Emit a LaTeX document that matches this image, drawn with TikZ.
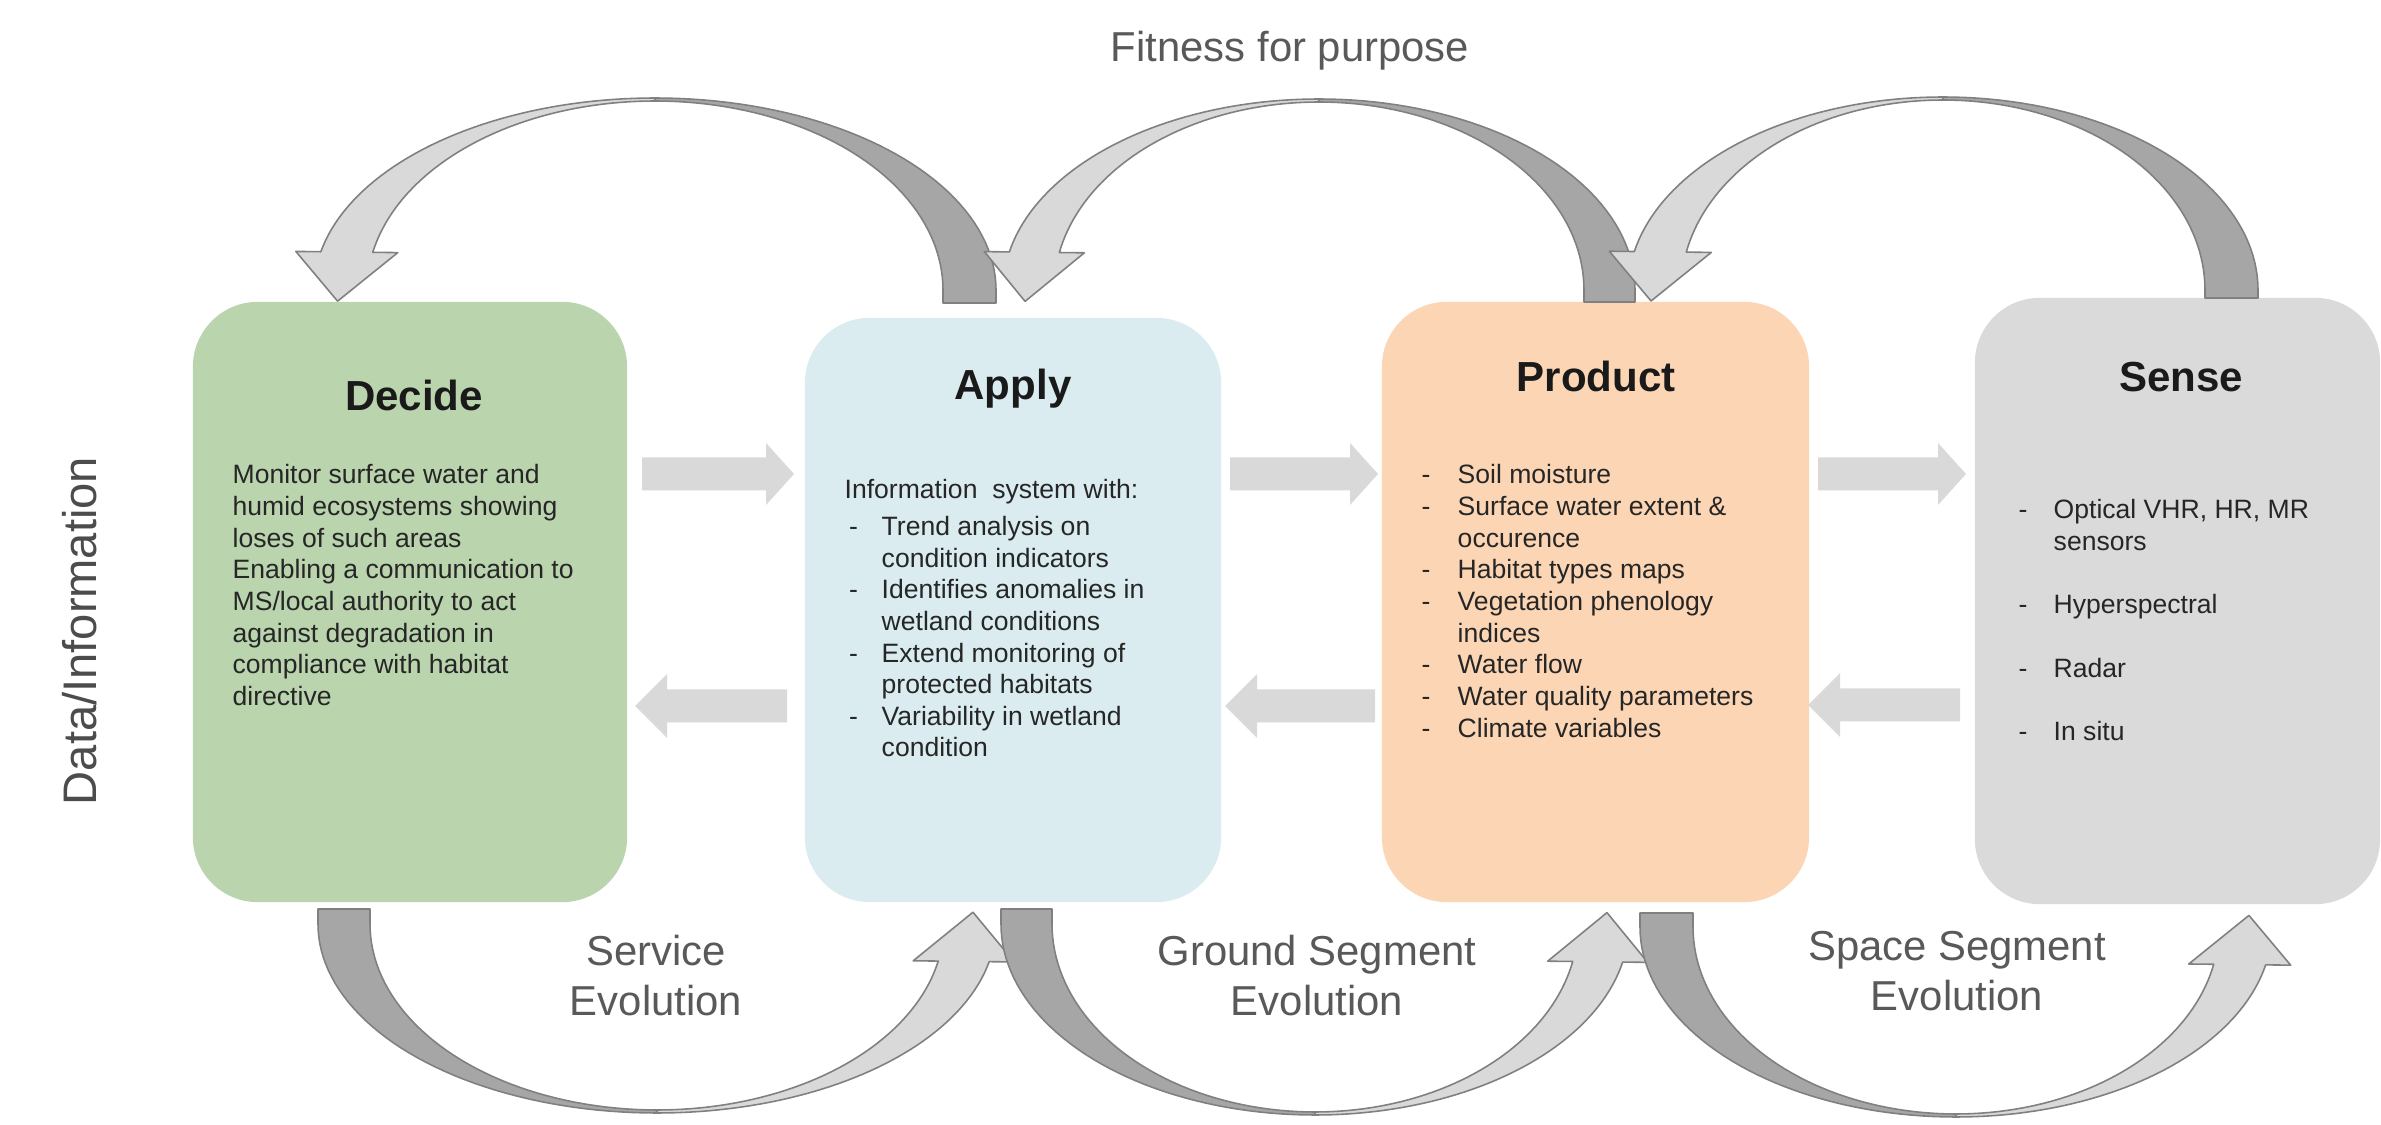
\documentclass[tikz,border=0pt]{standalone}
\usepackage{fontspec}
\setmainfont{Liberation Sans}
\usetikzlibrary{calc}

\definecolor{decidegreen}{HTML}{BAD4AE}
\definecolor{applyblue}{HTML}{DAECF0}
\definecolor{productpeach}{HTML}{FCD6B4}
\definecolor{sensegray}{HTML}{DADADA}
\definecolor{bandlight}{HTML}{D9D9D9}
\definecolor{banddark}{HTML}{A6A6A6}
\definecolor{bandedge}{HTML}{808080}
\definecolor{blockgray}{HTML}{D9D9D9}
\definecolor{labelgray}{HTML}{595959}
\definecolor{bodytext}{HTML}{262626}
\definecolor{titletext}{HTML}{1A1A1A}

% bullet column and continuation indent
\newcommand{\bul}[1]{\makebox[#1][l]{-}}
\newcommand{\cont}[1]{\hspace*{#1}}

% twisted ribbon arrow: #1 cx, #2 cy, #3 outer a, #4 outer b, #5 inner a, #6 inner b,
% #7 side (1 = arching over the top, -1 = hanging below), #8 y where the dark end stops
\newcommand{\ribbon}[8]{%
  \fill[banddark, draw=bandedge, line width=0.45pt, line join=round]
    ({#1+(#7)*#5},#8) -- ({#1+(#7)*#3},#8)
    -- plot[domain=0:90, samples=45] ({#1+(#7)*#3*cos(\x)},{#2-(#7)*#4*sin(\x)})
    -- plot[domain=90:0, samples=45] ({#1+(#7)*#5*cos(\x)},{#2-(#7)*#6*sin(\x)})
    -- cycle;
  \coordinate (rO) at ({#1+(#7)*#3*cos(168.5)},{#2-(#7)*#4*sin(168.5)});
  \coordinate (rI) at ({#1+(#7)*#5*cos(168.5)},{#2-(#7)*#6*sin(168.5)});
  \coordinate (rM) at ($(rO)!0.5!(rI)$);
  \fill[bandlight, draw=bandedge, line width=0.45pt, line join=round]
    plot[domain=90:168.5, samples=45] ({#1+(#7)*#3*cos(\x)},{#2-(#7)*#4*sin(\x)})
    -- ($(rO)!-0.25cm!(rI)$) -- ($(rM)!0.5cm!80:(rO)$) -- ($(rI)!-0.25cm!(rO)$)
    -- plot[domain=168.5:90, samples=45] ({#1+(#7)*#5*cos(\x)},{#2-(#7)*#6*sin(\x)})
    -- cycle;
}

% flat block arrow: #1 tail x, #2 head base x, #3 tip x, #4 centre y, #5 head half height
\newcommand{\blockarrow}[5]{%
  \fill[blockgray]
    (#1,{#4-16.5}) -- (#2,{#4-16.5}) -- (#2,{#4-#5}) -- (#3,#4)
    -- (#2,{#4+#5}) -- (#2,{#4+16.5}) -- (#1,{#4+16.5}) -- cycle;
}

\begin{document}
\begin{tikzpicture}[x=0.01cm, y=-0.01cm,
  stagebox/.style={rectangle, rounded corners=0.65cm, draw=none, inner sep=0pt},
  stagetitle/.style={font=\bfseries\fontsize{11.95pt}{14pt}\selectfont, text=titletext, inner sep=0pt, anchor=base},
  stagebody/.style={font=\fontsize{7.55pt}{9pt}\selectfont, text=bodytext, align=left, inner sep=0pt, anchor=north west},
  looplabel/.style={font=\fontsize{11.9pt}{14.2pt}\selectfont, text=labelgray, align=center, inner sep=0pt}]

\fill[white] (0,0) rectangle (2381,1125);
\useasboundingbox (0,0) rectangle (2381,1125);

% stage boxes
\node[stagebox, fill=decidegreen, minimum width=4.34cm, minimum height=6.0cm] (decide) at (410,602) {};
\node[stagebox, fill=applyblue, minimum width=4.16cm, minimum height=5.84cm] (apply) at (1013,610) {};
\node[stagebox, fill=productpeach, minimum width=4.27cm, minimum height=6.0cm] (product) at (1595.5,602) {};
\node[stagebox, fill=sensegray, minimum width=4.05cm, minimum height=6.06cm] (sense) at (2177.5,601) {};

% titles
\node[stagetitle] (decidetitle) at (414,411) {Decide};
\node[stagetitle] (applytitle) at (1013,400) {Apply};
\node[stagetitle] (producttitle) at (1596,392) {Product};
\node[stagetitle] (sensetitle) at (2181,392) {Sense};

% box contents
\node[stagebody] (decidebody) at (232,461) {\strut Monitor surface water and\\
humid ecosystems showing\\
loses of such areas\\
Enabling a communication to\\
MS/local authority to act\\
against degradation in\\
compliance with habitat\\
directive};

\node[stagebody] (applybody) at (844,476) {\strut Information\ \ system with:\\[1.4pt]
\hspace*{0.045cm}\bul{0.325cm}Trend analysis on\\
\cont{0.37cm}condition indicators\\
\hspace*{0.045cm}\bul{0.325cm}Identifies anomalies in\\
\cont{0.37cm}wetland conditions\\
\hspace*{0.045cm}\bul{0.325cm}Extend monitoring of\\
\cont{0.37cm}protected habitats\\
\hspace*{0.045cm}\bul{0.325cm}Variability in wetland\\
\cont{0.37cm}condition};

\node[stagebody] (productbody) at (1421,461) {\strut\bul{0.36cm}Soil moisture\\
\bul{0.36cm}Surface water extent \&\\
\cont{0.36cm}occurence\\
\bul{0.36cm}Habitat types maps\\
\bul{0.36cm}Vegetation phenology\\
\cont{0.36cm}indices\\
\bul{0.36cm}Water flow\\
\bul{0.36cm}Water quality parameters\\
\bul{0.36cm}Climate variables};

\node[stagebody] (sensebody) at (2018,496) {\strut\bul{0.35cm}Optical VHR, HR, MR\\
\cont{0.35cm}sensors\\[9pt]
\bul{0.35cm}Hyperspectral\\[9pt]
\bul{0.35cm}Radar\\[9pt]
\bul{0.35cm}In situ};

% data/information flow between neighbouring stages
\blockarrow{642}{766}{794}{474}{31}
\blockarrow{1230}{1350}{1378}{474}{31}
\blockarrow{1818}{1938}{1966}{474}{31}
\blockarrow{787}{667}{635}{706}{32}
\blockarrow{1375}{1257}{1225}{706}{32}
\blockarrow{1960}{1840}{1808}{705}{32}

% fitness-for-purpose loops over the top
\ribbon{655}{290}{341}{192}{288}{189}{1}{303}
\ribbon{1319}{290}{316}{191}{265}{188}{1}{302}
\ribbon{1943}{290}{315}{193}{262}{190}{1}{298}

% evolution loops underneath
\ribbon{657}{924}{339}{189}{287}{186}{-1}{909}
\ribbon{1315}{924}{314}{191}{263}{188}{-1}{909}
\ribbon{1956}{927}{316}{190}{263}{187}{-1}{913}

% labels
\node[looplabel, anchor=base] (fitness) at (1290,62) {Fitness for purpose};
\node[looplabel, anchor=north] (service) at (656,930) {\strut Service\\Evolution};
\node[looplabel, anchor=north] (ground) at (1317,930) {\strut Ground Segment\\Evolution};
\node[looplabel, anchor=north] (space) at (1957,925) {\strut Space Segment\\Evolution};
\node[font=\fontsize{13.4pt}{16pt}\selectfont, text=labelgray!85!black, rotate=90, anchor=base, inner sep=0pt] (datainfo) at (97,631) {Data/Information};

\end{tikzpicture}
\end{document}
